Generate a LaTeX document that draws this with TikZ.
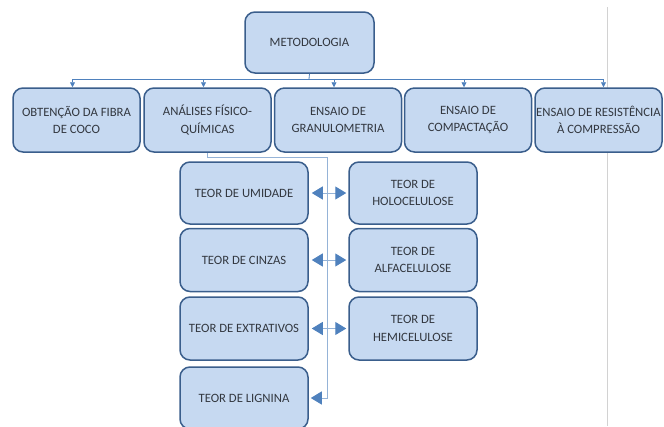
\documentclass[tikz,border=0pt]{standalone}
\usepackage{fontspec}
\setmainfont{Carlito}
\usetikzlibrary{arrows.meta}
\definecolor{boxfill}{HTML}{C6D9F1}
\definecolor{boxline}{HTML}{3A5E8C}
\definecolor{conn}{HTML}{4F81BD}
\definecolor{connlight}{HTML}{95B3D7}
\definecolor{txt}{HTML}{333840}
\tikzset{
  box/.style={draw=boxline, fill=boxfill, line width=1.5pt, rounded corners=10pt,
    align=center, text=txt, font=\fontsize{12.7}{17.5}\selectfont, inner sep=1pt},
  conline/.style={draw=conn, line width=0.8pt},
  downarr/.style={conline, -{Triangle[length=5pt,width=5pt]}},
  bigtip/.tip={Triangle[length=11pt,width=13pt,color=conn,fill=conn]},
  dbl/.style={draw=connlight, line width=1pt, bigtip-bigtip},
}
\begin{document}
\begin{tikzpicture}[x=1pt,y=-1pt]
\useasboundingbox (0,0) rectangle (664,426);
\draw[gray!35, line width=1pt] (607,7) -- (607,426);
% boxes
\node[box, minimum width=129pt, minimum height=61pt] (met) at (309.5,42.5) {METODOLOGIA};
\node[box, minimum width=127pt, minimum height=64pt] (obt) at (76.5,120) {OBTENÇÃO DA FIBRA\\DE COCO};
\node[box, minimum width=127pt, minimum height=64pt] (ana) at (207.5,120) {ANÁLISES FÍSICO-\\QUÍMICAS};
\node[box, minimum width=127pt, minimum height=64pt] (gra) at (338,120) {ENSAIO DE\\GRANULOMETRIA};
\node[box, minimum width=127pt, minimum height=64pt] (com) at (468,120) {ENSAIO DE\\COMPACTAÇÃO};
\node[box, minimum width=127pt, minimum height=64pt] (res) at (598.5,120) {ENSAIO DE RESISTÊNCIA\\À COMPRESSÃO};
\node[box, minimum width=128pt, minimum height=62pt] (umi) at (244,193) {TEOR DE UMIDADE};
\node[box, minimum width=128pt, minimum height=63pt] (cin) at (244,260) {TEOR DE CINZAS};
\node[box, minimum width=128pt, minimum height=63pt] (ext) at (244,328.5) {TEOR DE EXTRATIVOS};
\node[box, minimum width=128pt, minimum height=62pt] (lig) at (244,398) {TEOR DE LIGNINA};
\node[box, minimum width=128pt, minimum height=62pt] (hol) at (413,193) {TEOR DE\\HOLOCELULOSE};
\node[box, minimum width=128pt, minimum height=63pt] (alf) at (413,260) {TEOR DE\\ALFACELULOSE};
\node[box, minimum width=128pt, minimum height=63pt] (hem) at (413,328.5) {TEOR DE\\HEMICELULOSE};
% top connectors
\coordinate (bus) at (309,79);
\draw[conline] (met.south) -- (bus);
\foreach \n in {obt,ana,gra,com} \draw[downarr] (bus) -| ([xshift=-4pt]\n.north);
\draw[downarr] (bus) -| ([xshift=5pt]res.north);
% analises branch
\coordinate (a1) at (327,157);
\draw[draw=connlight, line width=1pt, -bigtip]
  (ana.south) |- (a1) |- ([xshift=2pt]lig.east);
% double arrows
\draw[dbl] ([xshift=3pt]umi.east) -- ([xshift=-2pt]hol.west);
\draw[dbl] ([xshift=3pt]cin.east) -- ([xshift=-2pt]alf.west);
\draw[dbl] ([xshift=3pt]ext.east) -- ([xshift=-2pt]hem.west);
\end{tikzpicture}
\end{document}
